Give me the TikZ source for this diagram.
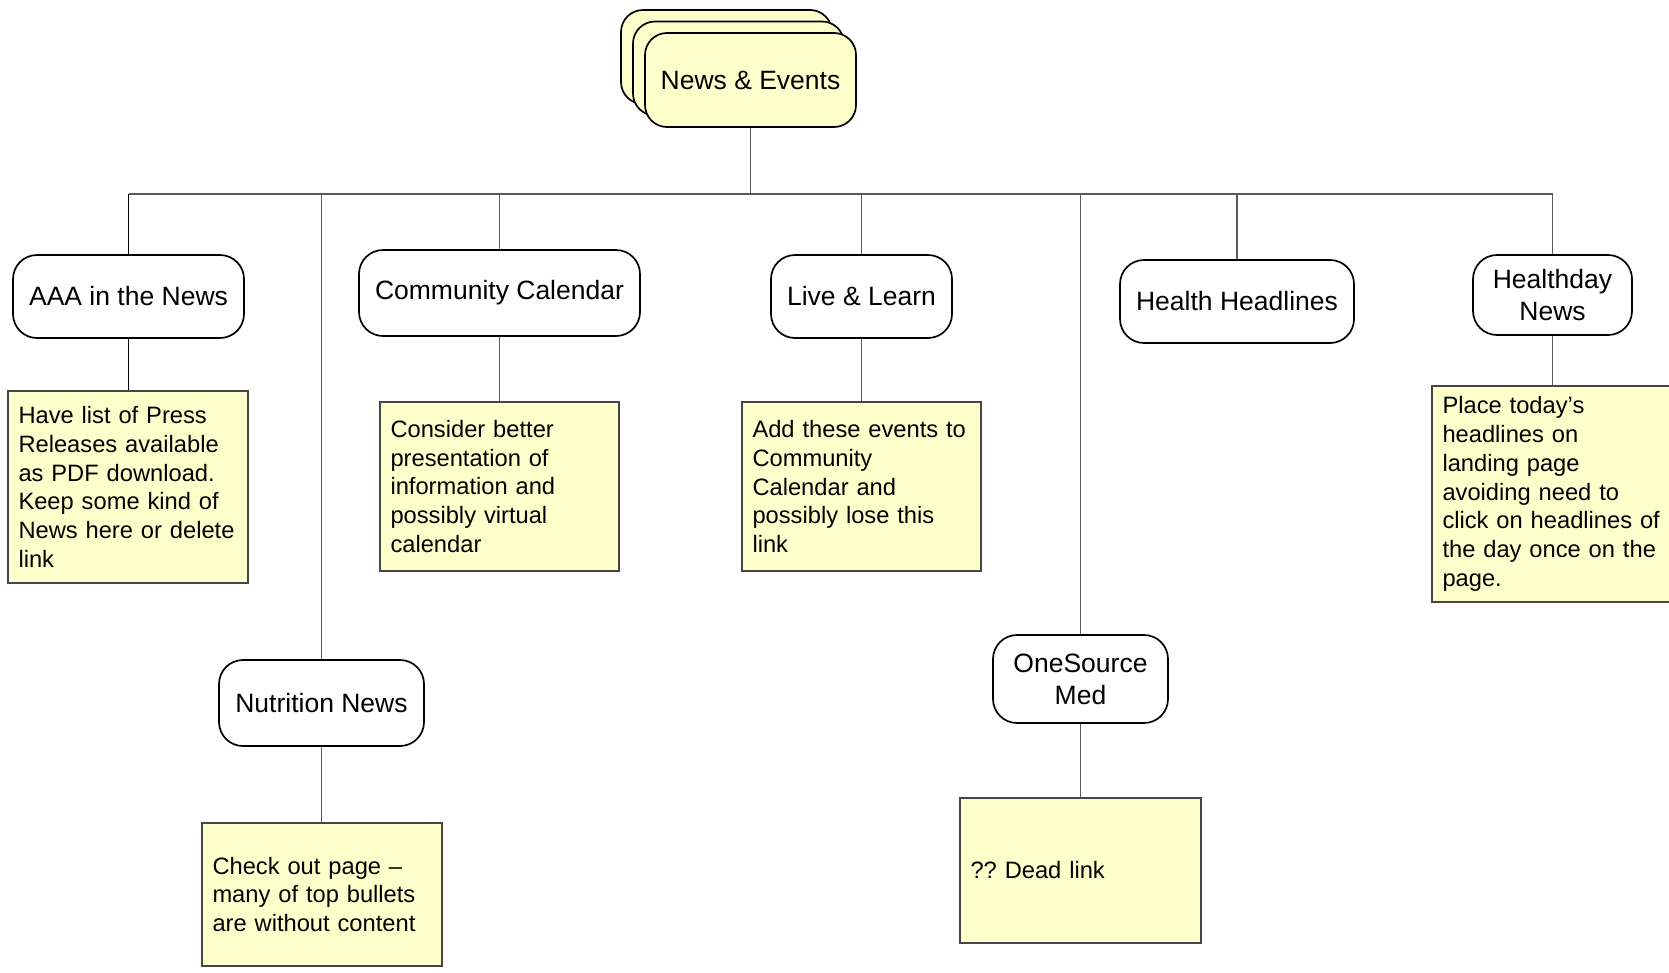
\documentclass[tikz,border=0pt]{standalone}
\usepackage{fontspec}
\setmainfont{Liberation Sans}
\definecolor{noteyellow}{RGB}{255,255,204}
\definecolor{linegray}{RGB}{90,90,90}
\definecolor{notegray}{RGB}{70,70,70}
\newcommand{\lblfont}{\fontsize{26.5}{31.8}\selectfont\frenchspacing}
\newcommand{\notefont}{\fontsize{23.7}{28.8}\selectfont\frenchspacing}
\tikzset{
  topic/.style={draw=black, line width=1.7pt, rounded corners=24pt, fill=white,
    font=\lblfont, align=center, inner sep=0pt},
  headcard/.style={draw=black, line width=1.7pt, rounded corners=22pt, fill=noteyellow,
    font=\lblfont, align=center, inner sep=0pt, minimum width=211pt, minimum height=94pt},
  notebox/.style={draw=notegray, line width=1.3pt, fill=noteyellow, font=\notefont,
    align=left, inner xsep=10.5pt, inner ysep=0pt},
  conn/.style={draw=linegray, line width=1.3pt},
}
\begin{document}
\begin{tikzpicture}[x=1pt,y=-1pt]
\useasboundingbox (0,0) rectangle (1669,972);
% head stack
\node[headcard] (ne3) at (726.5,57) {};
\node[headcard] (ne2) at (738.5,68.5) {};
\node[headcard] (ne) at (750.5,80) {News \& Events};
% topics
\node[topic, minimum width=231pt, minimum height=83pt] (aaa) at (128.5,296.5) {AAA in the News};
\node[topic, minimum width=281pt, minimum height=86pt] (cc) at (499.5,293) {Community Calendar};
\node[topic, minimum width=205pt, minimum height=86pt] (nut) at (321.5,703) {Nutrition News};
\node[topic, minimum width=181pt, minimum height=83pt] (ll) at (861.5,296.5) {Live \& Learn};
\node[topic, minimum width=175pt, minimum height=88pt] (osm) at (1080.5,679) {OneSource\\Med};
\node[topic, minimum width=234pt, minimum height=83pt] (hh) at (1237,301.5) {Health Headlines};
\node[topic, minimum width=159pt, minimum height=80pt] (hd) at (1552.5,295) {Healthday\\News};
% notes
\node[notebox, text width=219pt, minimum height=192pt] (aaan) at (128,487)
  {Have list of Press\\Releases available\\as PDF download.\\Keep some kind of\\News here or delete\\link};
\node[notebox, text width=218pt, minimum height=169pt] (ccn) at (499.5,486.5)
  {Consider better\\presentation of\\information and\\possibly virtual\\calendar};
\node[notebox, text width=219pt, minimum height=143pt] (nutn) at (322,894.5)
  {Check out page --\\many of top bullets\\are without content};
\node[notebox, text width=218pt, minimum height=169pt] (lln) at (861.5,486.5)
  {Add these events to\\Community\\Calendar and\\possibly lose this\\link};
\node[notebox, text width=220pt, minimum height=145pt] (osmn) at (1080.5,870.5)
  {?? Dead link};
\node[notebox, text width=229pt, minimum height=216pt] (hdn) at (1557,494)
  {Place today’s\\headlines on\\landing page\\avoiding need to\\click on headlines of\\the day once on the\\page.};
% connectors
\coordinate (bus) at (750,194);
\draw[conn] (ne.south) -- (ne.south |- bus);
\draw[conn] (aaa.north |- bus) -- (hd.north |- bus);
\draw[conn, draw=black] (aaa.north) -- (aaa.north |- bus);
\draw[conn] (cc.north) -- (cc.north |- bus);
\draw[conn] (nut.north) -- (nut.north |- bus);
\draw[conn] (ll.north) -- (ll.north |- bus);
\draw[conn] (osm.north) -- (osm.north |- bus);
\draw[conn] (hh.north) -- (hh.north |- bus);
\draw[conn] (hd.north) -- (hd.north |- bus);
\draw[conn, draw=black] (aaa.south) -- (aaa.south |- aaan.north);
\draw[conn] (cc.south) -- (cc.south |- ccn.north);
\draw[conn] (nut.south) -- (nut.south |- nutn.north);
\draw[conn] (ll.south) -- (ll.south |- lln.north);
\draw[conn] (osm.south) -- (osm.south |- osmn.north);
\draw[conn] (hd.south) -- (hd.south |- hdn.north);
\end{tikzpicture}
\end{document}
